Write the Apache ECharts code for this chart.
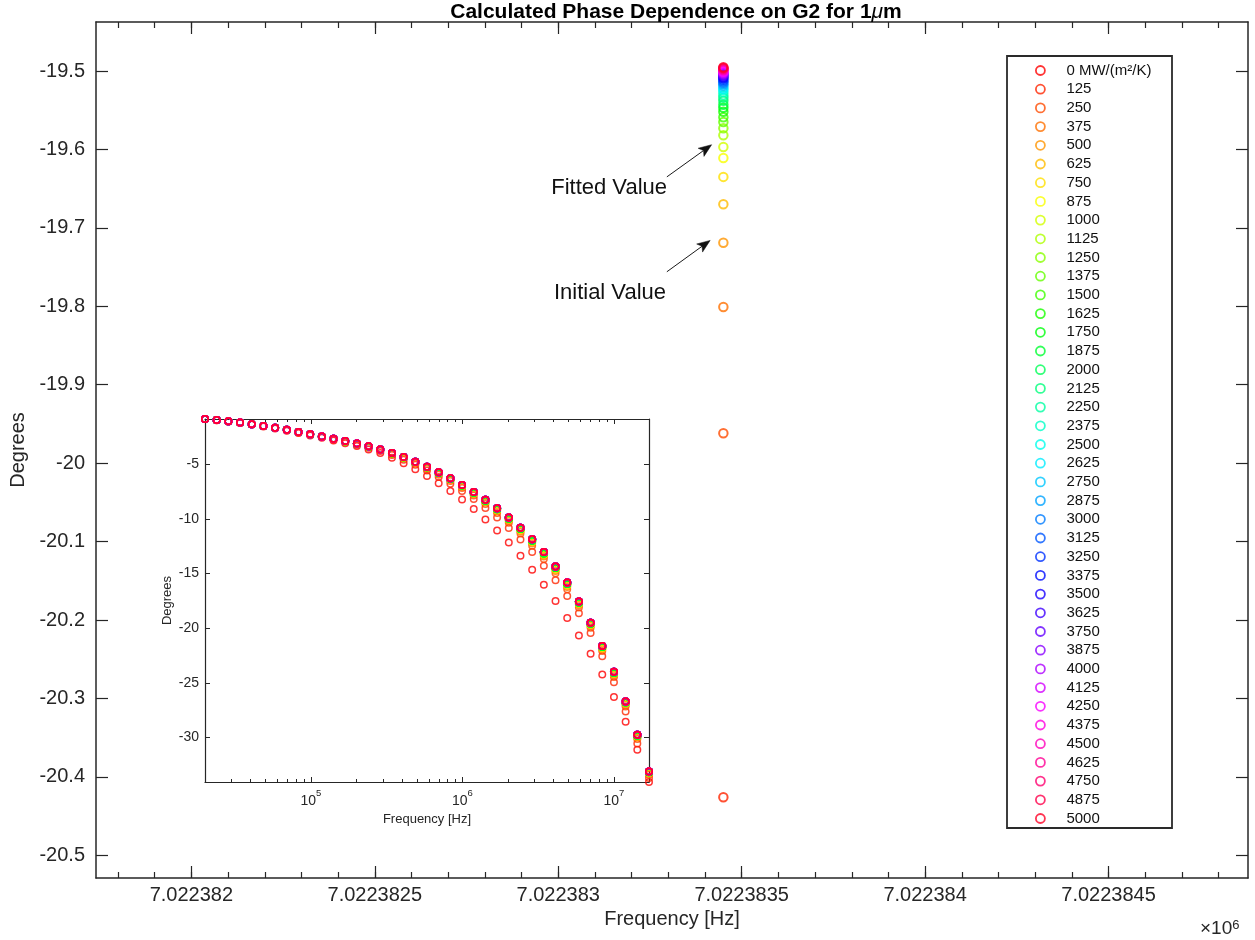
<!DOCTYPE html>
<html>
<head>
<meta charset="utf-8">
<script src="https://cdn.jsdelivr.net/npm/echarts@6/dist/echarts.min.js"></script>
<style>
  html, body { margin: 0; padding: 0; background: #fff; }
  #chart { width: 1255px; height: 940px; }
</style>
</head>
<body>
<div id="chart"></div>
<script>
// Interface conductance G2 of each curve, MW/(m^2 K)
const conductance = [0, 125, 250, 375, 500, 625, 750, 875, 1000, 1125, 1250, 1375, 1500, 1625,
  1750, 1875, 2000, 2125, 2250, 2375, 2500, 2625, 2750, 2875, 3000, 3125, 3250, 3375, 3500,
  3625, 3750, 3875, 4000, 4125, 4250, 4375, 4500, 4625, 4750, 4875, 5000];

// Phase (degrees) at the fitting frequency, one value per conductance
const fitFrequency = 7022383.45; // Hz
const phaseAtFit = [-22.34, -20.426, -19.962, -19.801, -19.719, -19.670, -19.635, -19.611,
  -19.597, -19.582, -19.573, -19.565, -19.559, -19.552, -19.547, -19.543, -19.538, -19.534,
  -19.531, -19.527, -19.524, -19.522, -19.519, -19.517, -19.515, -19.513, -19.511, -19.509,
  -19.508, -19.506, -19.505, -19.504, -19.503, -19.502, -19.501, -19.4995, -19.4986,
  -19.4977, -19.4968, -19.496, -19.4953];

// Frequency sweep of the inset (Hz)
const sweepFreq = [20000, 23887, 28530, 34074, 40696, 48606, 58052, 69335, 82810, 98904,
  118126, 141084, 168504, 201253, 240366, 287081, 342875, 409511, 489099, 584155, 697686,
  833279, 995226, 1188648, 1419661, 1695571, 2025104, 2418683, 2888753, 3450182, 4120725,
  4921588, 5878100, 7022383.45, 8384957, 10014520, 11960781, 14285259, 17061500];

// Swept phase (degrees) for the conductances that can be told apart in the inset
const sweepAt0 = [-0.87, -0.98, -1.09, -1.22, -1.37, -1.54, -1.72, -1.93, -2.14, -2.36, -2.58,
  -2.82, -3.07, -3.34, -3.64, -3.98, -4.41, -4.90, -5.46, -6.07, -6.74, -7.45, -8.22, -9.09,
  -10.05, -11.06, -12.17, -13.36, -14.65, -16.03, -17.51, -19.06, -20.67, -22.34, -24.24,
  -26.30, -28.55, -31.12, -34.07];
const sweepAt125 = [-0.86, -0.97, -1.08, -1.20, -1.35, -1.51, -1.69, -1.88, -2.09, -2.30, -2.51,
  -2.73, -2.96, -3.21, -3.48, -3.78, -4.16, -4.58, -5.05, -5.58, -6.16, -6.78, -7.45, -8.19,
  -9.01, -9.88, -10.84, -11.88, -13.03, -14.29, -15.61, -17.05, -18.64, -20.43, -22.56,
  -24.95, -27.63, -30.54, -33.71];
const sweepAt250 = [-0.86, -0.96, -1.07, -1.20, -1.34, -1.50, -1.67, -1.87, -2.07, -2.27, -2.48,
  -2.69, -2.92, -3.16, -3.42, -3.71, -4.06, -4.46, -4.91, -5.41, -5.95, -6.53, -7.17, -7.87,
  -8.63, -9.45, -10.35, -11.34, -12.45, -13.66, -14.98, -16.44, -18.10, -19.96, -22.09,
  -24.47, -27.16, -30.14, -33.41];
const sweepAt375 = [-0.86, -0.96, -1.07, -1.19, -1.34, -1.50, -1.67, -1.86, -2.06, -2.27, -2.47,
  -2.68, -2.91, -3.14, -3.40, -3.69, -4.03, -4.42, -4.86, -5.35, -5.88, -6.45, -7.07, -7.75,
  -8.50, -9.30, -10.19, -11.15, -12.25, -13.45, -14.77, -16.23, -17.91, -19.80, -21.93,
  -24.30, -27.01, -30.00, -33.31];
const sweepAt500 = [-0.86, -0.96, -1.07, -1.19, -1.33, -1.50, -1.67, -1.86, -2.06, -2.26, -2.46,
  -2.68, -2.90, -3.13, -3.39, -3.67, -4.01, -4.40, -4.83, -5.31, -5.84, -6.41, -7.02, -7.70,
  -8.43, -9.23, -10.10, -11.06, -12.14, -13.33, -14.65, -16.12, -17.81, -19.72, -21.85,
  -24.21, -26.92, -29.93, -33.26];
const sweepAt750 = [-0.86, -0.96, -1.07, -1.19, -1.33, -1.49, -1.66, -1.85, -2.06, -2.26, -2.46,
  -2.67, -2.89, -3.12, -3.38, -3.66, -4.00, -4.38, -4.80, -5.28, -5.80, -6.36, -6.97, -7.64,
  -8.36, -9.15, -10.01, -10.96, -12.04, -13.22, -14.54, -16.00, -17.71, -19.64, -21.76,
  -24.13, -26.84, -29.86, -33.21];
const sweepAt1000 = [-0.86, -0.96, -1.07, -1.19, -1.33, -1.49, -1.66, -1.85, -2.05, -2.26, -2.46,
  -2.67, -2.89, -3.12, -3.37, -3.66, -3.99, -4.37, -4.79, -5.27, -5.79, -6.34, -6.95, -7.61,
  -8.33, -9.11, -9.98, -10.92, -11.99, -13.17, -14.49, -15.96, -17.67, -19.60, -21.72,
  -24.09, -26.80, -29.83, -33.18];
const sweepAt5000 = [-0.86, -0.96, -1.07, -1.19, -1.33, -1.49, -1.66, -1.85, -2.05, -2.25, -2.45,
  -2.66, -2.88, -3.11, -3.36, -3.64, -3.97, -4.34, -4.76, -5.23, -5.74, -6.29, -6.89, -7.54,
  -8.25, -9.02, -9.87, -10.80, -11.86, -13.03, -14.35, -15.82, -17.55, -19.50, -21.62,
  -23.98, -26.70, -29.74, -33.12];
// first conductance from which each swept curve applies
const sweepGroups = [[0, sweepAt0], [125, sweepAt125], [250, sweepAt250], [375, sweepAt375],
  [500, sweepAt500], [750, sweepAt750], [1000, sweepAt1000], [2000, sweepAt5000]];

// Axis ticks
const mainXTicks = [7022382, 7022382.5, 7022383, 7022383.5, 7022384, 7022384.5];
const mainYTicks = [-20.5, -20.4, -20.3, -20.2, -20.1, -20, -19.9, -19.8, -19.7, -19.6, -19.5];
const insetXTicks = [1e5, 1e6, 1e7];
const insetXMinor = [3e4, 4e4, 5e4, 6e4, 7e4, 8e4, 9e4, 2e5, 3e5, 4e5, 5e5, 6e5, 7e5, 8e5, 9e5,
  2e6, 3e6, 4e6, 5e6, 6e6, 7e6, 8e6, 9e6];
const insetYTicks = [-30, -25, -20, -15, -10, -5];

// Annotation arrows, tail -> head in data coordinates; text anchored at its right end
const annotations = [
  { text: 'Fitted Value', from: [7022383.296, -19.635], to: [7022383.418, -19.594], tx: 667, ty: 188 },
  { text: 'Initial Value', from: [7022383.296, -19.756], to: [7022383.414, -19.716], tx: 666, ty: 293 }
];

const FONT = '"Liberation Sans", Arial, Helvetica, sans-serif';
const AX = '#262626';
const X_MIN = 7022381.74, X_MAX = 7022384.88;
const Y_MIN = -20.529, Y_MAX = -19.4375;
const IX_MIN = 20000, IX_MAX = 17061500;
const IY_MIN = -34.07, IY_MAX = -0.86;

// hsv colormap, one hue per curve
function hsvColor(h) {
  const i = Math.floor(h * 6), f = h * 6 - i, q = 1 - f;
  let r, g, b;
  switch (i % 6) {
    case 0: r = 1; g = f; b = 0; break;
    case 1: r = q; g = 1; b = 0; break;
    case 2: r = 0; g = 1; b = f; break;
    case 3: r = 0; g = q; b = 1; break;
    case 4: r = f; g = 0; b = 1; break;
    default: r = 1; g = 0; b = q;
  }
  return 'rgb(' + [r, g, b].map(v => Math.round(v * 255)).join(',') + ')';
}
const colors = conductance.map((g, k) => hsvColor(k / conductance.length));
const names = conductance.map(String);

// minor ticks of the main frequency axis, every 0.1 Hz
const mainXMinor = [];
for (let t = 7022381.8; t < X_MAX; t += 0.1) mainXMinor.push(Math.round(t * 10) / 10);

function valueAxis(base, extra) {
  const ax = {
    type: 'value', splitLine: { show: false },
    axisLine: { show: true, onZero: false, lineStyle: { color: AX, width: 1.5 } },
    axisTick: { show: true, inside: true, length: 12, lineStyle: { color: AX, width: 1.2 } },
    axisLabel: { show: false }
  };
  Object.assign(ax, base);
  if (extra) {
    if (extra.tick) Object.assign(ax.axisTick, extra.tick);
    if (extra.line) Object.assign(ax.axisLine, extra.line);
    if (extra.label) ax.axisLabel = extra.label;
  }
  return ax;
}

const insetLabelRich = {
  b: { fontFamily: FONT, fontSize: 14, color: AX, lineHeight: 20, verticalAlign: 'bottom' },
  s: { fontFamily: FONT, fontSize: 9.5, color: AX, lineHeight: 10, verticalAlign: 'top' }
};

const xAxes = [
  // main, bottom
  valueAxis({ gridIndex: 0, position: 'bottom', min: X_MIN, max: X_MAX,
    name: 'Frequency [Hz]', nameLocation: 'middle', nameGap: 30,
    nameTextStyle: { fontFamily: FONT, fontSize: 20, color: AX } },
    { tick: { customValues: mainXTicks },
      label: { show: true, customValues: mainXTicks, margin: 7, fontFamily: FONT, fontSize: 20, color: AX,
        formatter: v => (v / 1e6).toFixed(7).replace(/0+$/, '') } }),
  valueAxis({ gridIndex: 0, position: 'bottom', min: X_MIN, max: X_MAX },
    { tick: { customValues: mainXMinor, length: 6 }, line: { show: false } }),
  // main, top
  valueAxis({ gridIndex: 0, position: 'top', min: X_MIN, max: X_MAX },
    { tick: { customValues: mainXTicks } }),
  valueAxis({ gridIndex: 0, position: 'top', min: X_MIN, max: X_MAX },
    { tick: { customValues: mainXMinor, length: 6 }, line: { show: false } }),
  // inset, bottom
  valueAxis({ gridIndex: 1, type: 'log', logBase: 10, position: 'bottom', min: IX_MIN, max: IX_MAX, z: 6,
    name: 'Frequency [Hz]', nameLocation: 'middle', nameGap: 31,
    nameTextStyle: { fontFamily: FONT, fontSize: 13, color: AX } },
    { tick: { customValues: insetXTicks, length: 5, lineStyle: { color: AX, width: 1 } },
      line: { lineStyle: { color: AX, width: 1.2 } },
      label: { show: true, customValues: insetXTicks, margin: 6, rich: insetLabelRich,
        formatter: v => '{b|10}{s|' + Math.round(Math.log10(v)) + '}' } }),
  valueAxis({ gridIndex: 1, type: 'log', logBase: 10, position: 'bottom', min: IX_MIN, max: IX_MAX, z: 6 },
    { tick: { customValues: insetXMinor, length: 3, lineStyle: { color: AX, width: 1 } }, line: { show: false } }),
  // inset, top
  valueAxis({ gridIndex: 1, type: 'log', logBase: 10, position: 'top', min: IX_MIN, max: IX_MAX, z: 6 },
    { tick: { customValues: insetXTicks, length: 5, lineStyle: { color: AX, width: 1 } },
      line: { lineStyle: { color: AX, width: 1.2 } } }),
  valueAxis({ gridIndex: 1, type: 'log', logBase: 10, position: 'top', min: IX_MIN, max: IX_MAX, z: 6 },
    { tick: { customValues: insetXMinor, length: 3, lineStyle: { color: AX, width: 1 } }, line: { show: false } })
];

const yAxes = [
  valueAxis({ gridIndex: 0, position: 'left', min: Y_MIN, max: Y_MAX,
    name: 'Degrees', nameLocation: 'middle', nameGap: 60,
    nameTextStyle: { fontFamily: FONT, fontSize: 20, color: AX } },
    { tick: { customValues: mainYTicks },
      label: { show: true, customValues: mainYTicks, margin: 11, fontFamily: FONT, fontSize: 20, color: AX,
        formatter: v => String(Math.round(v * 10) / 10) } }),
  valueAxis({ gridIndex: 0, position: 'right', min: Y_MIN, max: Y_MAX },
    { tick: { customValues: mainYTicks } }),
  valueAxis({ gridIndex: 1, position: 'left', min: IY_MIN, max: IY_MAX, z: 6,
    name: 'Degrees', nameLocation: 'middle', nameGap: 31,
    nameTextStyle: { fontFamily: FONT, fontSize: 13, color: AX } },
    { tick: { customValues: insetYTicks, length: 5, lineStyle: { color: AX, width: 1 } },
      line: { lineStyle: { color: AX, width: 1.2 } },
      label: { show: true, customValues: insetYTicks, margin: 6, fontFamily: FONT, fontSize: 14, color: AX,
        formatter: v => String(v) } }),
  valueAxis({ gridIndex: 1, position: 'right', min: IY_MIN, max: IY_MAX, z: 6 },
    { tick: { customValues: insetYTicks, length: 5, lineStyle: { color: AX, width: 1 } },
      line: { lineStyle: { color: AX, width: 1.2 } } })
];

const series = [];
conductance.forEach((g, k) => {
  series.push({
    type: 'scatter', name: names[k], xAxisIndex: 0, yAxisIndex: 0,
    data: [[fitFrequency, phaseAtFit[k]]],
    symbol: 'circle', symbolSize: 8.5, z: 2,
    itemStyle: { color: 'rgba(0,0,0,0)', borderColor: colors[k], borderWidth: 2 },
    emphasis: { disabled: true }
  });
});
conductance.forEach((g, k) => {
  let row = sweepGroups[0][1];
  sweepGroups.forEach(([from, arr]) => { if (g >= from) row = arr; });
  series.push({
    type: 'scatter', name: names[k], xAxisIndex: 4, yAxisIndex: 2,
    data: sweepFreq.map((f, i) => [f, row[i]]),
    symbol: 'circle', symbolSize: 6.5, z: 7, clip: false,
    itemStyle: { color: 'rgba(0,0,0,0)', borderColor: colors[k], borderWidth: 1.5 },
    emphasis: { disabled: true }
  });
});

const option = {
  animation: false,
  backgroundColor: '#fff',
  title: {
    text: 'Calculated Phase Dependence on G2 for 1{mu|μ}m',
    left: 671, top: -3, textAlign: 'center',
    textStyle: {
      fontFamily: FONT, fontSize: 21, fontWeight: 'bold', color: '#000',
      rich: { mu: { fontFamily: FONT, fontSize: 21, fontStyle: 'italic', fontWeight: 'normal', color: '#000' } }
    }
  },
  grid: [
    { left: 96, top: 22, width: 1152, height: 856, outerBoundsMode: 'none' },
    { left: 205, top: 419, width: 444, height: 363, show: true, backgroundColor: '#fff',
      borderWidth: 0, z: 5, outerBoundsMode: 'none' }
  ],
  xAxis: xAxes,
  yAxis: yAxes,
  legend: {
    data: names.map((n, k) => ({
      name: n, icon: 'circle',
      itemStyle: { color: 'rgba(0,0,0,0)', borderColor: colors[k], borderWidth: 1.8 }
    })),
    orient: 'vertical', left: 1035, top: 63, padding: 0,
    itemGap: 3.7, itemWidth: 42, itemHeight: 9, selectedMode: false, z: 10,
    formatter: n => (n === '0' ? '0 MW/(m²/K)' : n),
    textStyle: { fontFamily: FONT, fontSize: 15, lineHeight: 15, color: '#111' }
  },
  graphic: [
    { id: 'legendBox', type: 'rect', z: 5, shape: { x: 1007, y: 56, width: 165, height: 772 },
      style: { fill: '#fff', stroke: '#2a2a2a', lineWidth: 1.8 } },
    ...annotations.map((a, i) => ({
      id: 'note' + i, type: 'text', z: 6, x: a.tx, y: a.ty,
      style: { text: a.text, font: '22px ' + FONT, fill: '#111', align: 'right', verticalAlign: 'middle' }
    })),
    { id: 'exponent', type: 'text', z: 6, x: 1200, y: 919,
      style: {
        text: '×10{s|6}', fill: AX, font: '19px ' + FONT, verticalAlign: 'top',
        rich: { s: { fontFamily: FONT, fontSize: 13, fill: AX, verticalAlign: 'top', lineHeight: 10 } }
      } }
  ],
  series: series
};

const chart = echarts.init(document.getElementById('chart'), null, { renderer: 'canvas' });
chart.setOption(option);

// annotation arrows: thin shaft with a filled, notched head, placed through the main axes
const arrowEls = [];
annotations.forEach((a, i) => {
  const p0 = chart.convertToPixel({ xAxisIndex: 0, yAxisIndex: 0 }, a.from);
  const p1 = chart.convertToPixel({ xAxisIndex: 0, yAxisIndex: 0 }, a.to);
  const dx = p1[0] - p0[0], dy = p1[1] - p0[1];
  const len = Math.hypot(dx, dy), ux = dx / len, uy = dy / len, nx = -uy, ny = ux;
  const headLen = 13, halfW = 5, notch = 3;
  const bx = p1[0] - ux * headLen, by = p1[1] - uy * headLen;
  arrowEls.push({
    id: 'arrowShaft' + i, type: 'line', z: 6,
    shape: { x1: p0[0], y1: p0[1], x2: bx + ux * notch, y2: by + uy * notch },
    style: { stroke: '#1a1a1a', lineWidth: 1 }
  });
  arrowEls.push({
    id: 'arrowHead' + i, type: 'polygon', z: 6,
    shape: { points: [
      [p1[0], p1[1]],
      [bx + nx * halfW, by + ny * halfW],
      [bx + ux * notch, by + uy * notch],
      [bx - nx * halfW, by - ny * halfW]
    ] },
    style: { fill: '#111', stroke: '#111', lineWidth: 0.5 }
  });
});
chart.setOption({ graphic: arrowEls });
</script>
</body>
</html>
